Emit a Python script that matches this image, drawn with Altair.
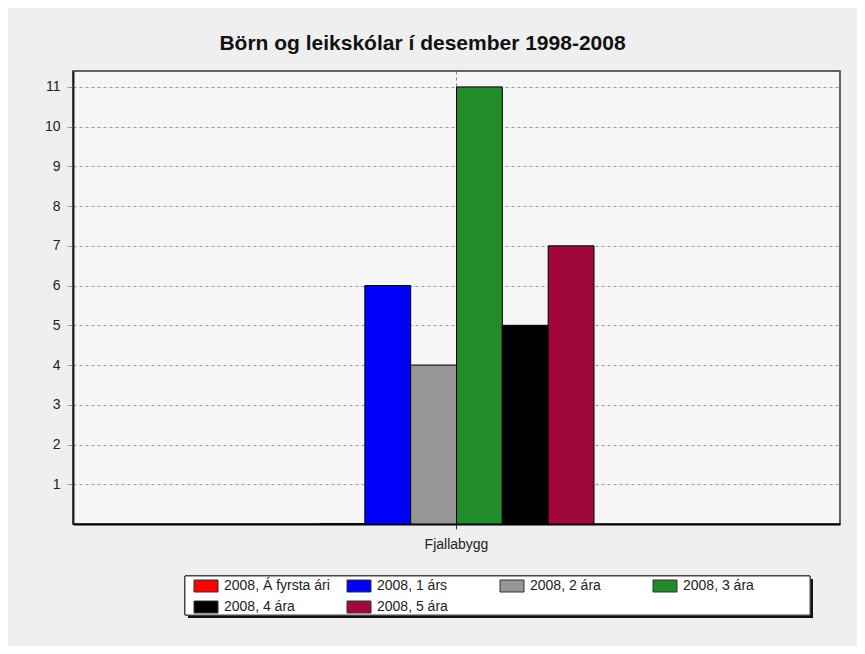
import altair as alt
import pandas as pd

categories = ["Fjallabygg"]
series = ["2008, Á fyrsta ári", "2008, 1 árs", "2008, 2 ára", "2008, 3 ára", "2008, 4 ára", "2008, 5 ára"]
values = [0, 6, 4, 11, 5, 7]
colors = ["#ff0000", "#0000ff", "#969696", "#228b2a", "#000000", "#a0083c"]
y_ticks = [1, 2, 3, 4, 5, 6, 7, 8, 9, 10, 11]
title_text = "Börn og leikskólar í desember 1998-2008"

df = pd.DataFrame({
    "Sveitarfélag": [categories[0]] * len(series),
    "Flokkur": series,
    "Fjöldi": values,
})

W, H = 767, 453
FONT = "Liberation Sans"

bars = alt.Chart(df).mark_bar(stroke="black", strokeWidth=1).encode(
    x=alt.X("Sveitarfélag:N", title=None,
            scale=alt.Scale(paddingOuter=0.8945, paddingInner=0),
            axis=alt.Axis(labelAngle=0, grid=True, gridDash=[3, 3], gridColor="#888",
                          domainColor="black", domainWidth=2, tickColor="#333",
                          tickSize=5, labelPadding=8, labelFontSize=14,
                          labelColor="#222", labelFont=FONT)),
    xOffset=alt.XOffset("Flokkur:N", sort=series,
                        scale=alt.Scale(paddingInner=0, paddingOuter=0)),
    y=alt.Y("Fjöldi:Q", title=None,
            scale=alt.Scale(domain=[0, 11.4], nice=False, zero=True),
            axis=alt.Axis(values=y_ticks, grid=True, gridDash=[3, 3], gridColor="#999",
                          domainColor="#222", domainWidth=2, tickColor="#999",
                          tickSize=6, labelPadding=7, labelFontSize=14,
                          labelColor="#222", labelFont=FONT)),
    color=alt.Color("Flokkur:N", sort=series,
                    scale=alt.Scale(domain=series, range=colors),
                    legend=alt.Legend(
                        title=None, orient="none", legendX=126, legendY=508,
                        direction="horizontal", columns=4, gridAlign="all",
                        columnPadding=15, rowPadding=5,
                        symbolType="M-2,-1H2V1H-2Z", symbolSize=144,
                        symbolStrokeColor="#333", symbolStrokeWidth=1,
                        labelOffset=11, labelFontSize=14, labelFont=FONT,
                        labelColor="#222", padding=0, labelLimit=250)),
)

shadow = alt.Chart(df).mark_rect(fill="#111", clip=False).encode(
    x=alt.value(115), x2=alt.value(740), y=alt.value(508), y2=alt.value(547))
box = alt.Chart(df).mark_rect(fill="white", stroke="#444", strokeWidth=1, clip=False).encode(
    x=alt.value(112), x2=alt.value(737), y=alt.value(505), y2=alt.value(544))

chart = alt.layer(shadow, box, bars).properties(
    width=W, height=H,
    background="#efefef",
    padding={"left": 65, "top": 63, "right": 17, "bottom": 122},
    autosize=alt.AutoSizeParams(type="none"),
    title=alt.TitleParams(title_text, fontSize=21, fontWeight="bold", font=FONT,
                          color="#111", anchor="middle", dx=-34, offset=17),
).configure_view(
    fill="#f6f6f6", stroke="#333", strokeWidth=1.5
)

chart.save("out.html", embed_options={"renderer": "svg", "actions": False})
